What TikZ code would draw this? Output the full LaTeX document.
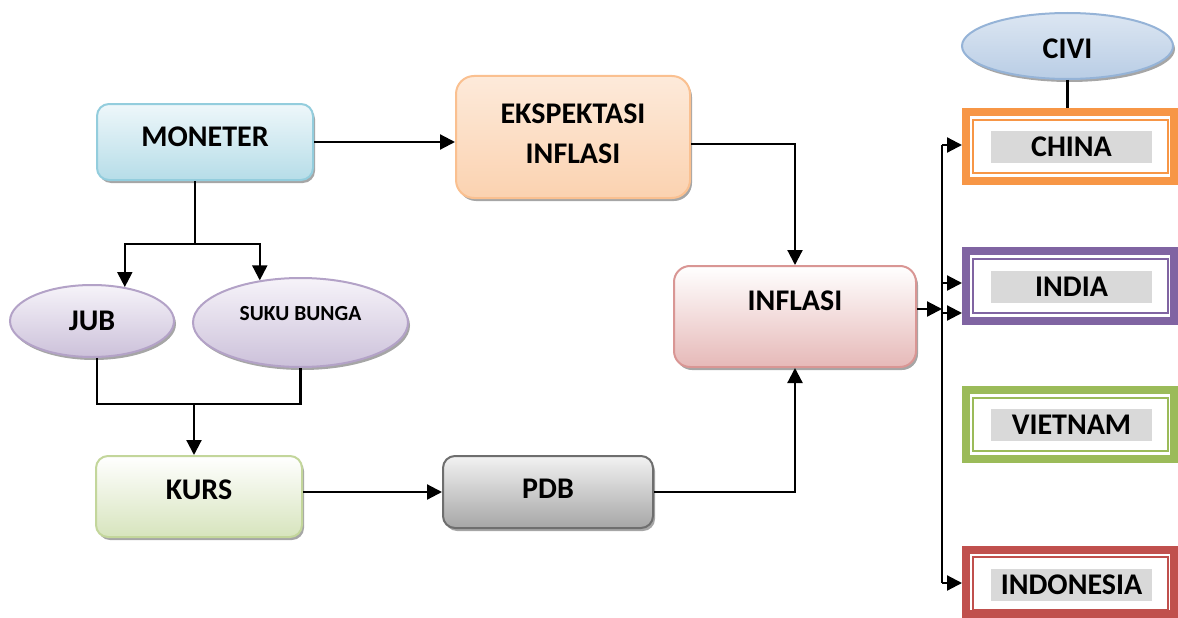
\documentclass[tikz,border=0pt]{standalone}
\usepackage{fontspec}
\setmainfont{Carlito}
\usetikzlibrary{shapes.geometric,shadows,arrows.meta,calc}
\definecolor{monD}{HTML}{93CDDD}\definecolor{monT}{HTML}{EEF7FA}\definecolor{monB}{HTML}{B6DDE8}
\definecolor{eksD}{HTML}{FAC090}\definecolor{eksT}{HTML}{FDEADA}\definecolor{eksB}{HTML}{FBD2B0}
\definecolor{infD}{HTML}{D99694}\definecolor{infT}{HTML}{FFFFFF}\definecolor{infB}{HTML}{E6B9B8}
\definecolor{kurD}{HTML}{C3D69B}\definecolor{kurT}{HTML}{FFFFFF}\definecolor{kurB}{HTML}{D7E4BD}
\definecolor{pdbD}{HTML}{6E6E6E}\definecolor{pdbT}{HTML}{F2F2F2}\definecolor{pdbB}{HTML}{A6A6A6}
\definecolor{ovD}{HTML}{B3A2C7}\definecolor{ovT}{HTML}{F6F3F9}\definecolor{ovB}{HTML}{CCC1DA}
\definecolor{civD}{HTML}{95B3D7}\definecolor{civT}{HTML}{DCE6F2}\definecolor{civB}{HTML}{B9CDE5}
\definecolor{cOr}{HTML}{F79646}\definecolor{cPu}{HTML}{8064A2}
\definecolor{cGr}{HTML}{9BBB59}\definecolor{cRe}{HTML}{C0504D}
\definecolor{labgray}{HTML}{D9D9D9}
\begin{document}
\begin{tikzpicture}[x=1pt,y=-1pt,
  line/.style={line width=2.2pt, black},
  arr/.style={line, -{Triangle[length=15pt,width=15pt]}},
  sh/.style={drop shadow={shadow xshift=2pt,shadow yshift=-3pt,fill=black!35,opacity=1}},
  rbox/.style={rectangle, line width=2pt, sh, inner sep=0pt},
  oval/.style={ellipse, line width=2pt, sh, inner sep=0pt},
  txt/.style={font=\fontsize{30}{40}\selectfont\bfseries, align=center, inner sep=0pt},
  cbox/.style={rectangle, line width=8pt, draw=#1, fill=white, minimum width=208pt, inner sep=0pt},
  clab/.style={rectangle, fill=labgray, minimum width=161pt, minimum height=32pt, inner sep=0pt, font=\fontsize{30}{32}\selectfont\bfseries},
]
\useasboundingbox (0,0) rectangle (1178,618);

% main boxes
\node[rbox, rounded corners=12pt, draw=monD, top color=monT, bottom color=monB,
  minimum width=216pt, minimum height=76pt,
  label={[txt,name=monL,yshift=5pt]center:MONETER}] (mon) at (205,142) {};
\node[rbox, rounded corners=18pt, draw=eksD, top color=eksT, bottom color=eksB,
  minimum width=234pt, minimum height=122pt,
  label={[txt,name=eksL,yshift=3.5pt]center:EKSPEKTASI\\INFLASI}] (eks) at (573,137) {};
\node[rbox, rounded corners=16pt, draw=infD, top color=infT, bottom color=infB,
  minimum width=242pt, minimum height=101pt,
  label={[txt,name=infL,yshift=16pt]center:INFLASI}] (inf) at (795,316.5) {};
\node[rbox, rounded corners=12pt, draw=kurD, top color=kurT, bottom color=kurB,
  minimum width=206pt, minimum height=81pt,
  label={[txt,name=kurL,yshift=6.5pt]center:KURS}] (kurs) at (199,496.5) {};
\node[rbox, rounded corners=12pt, draw=pdbD, top color=pdbT, bottom color=pdbB,
  minimum width=210pt, minimum height=72pt,
  label={[txt,name=pdbL,yshift=3pt]center:PDB}] (pdb) at (548,492) {};

% ellipses
\node[oval, draw=ovD, top color=ovT, bottom color=ovB,
  minimum width=164pt, minimum height=72pt,
  label={[txt,name=jubL]center:JUB}] (jub) at (92,321) {};
\node[oval, draw=ovD, top color=ovT, bottom color=ovB,
  minimum width=215pt, minimum height=89pt,
  label={[txt,name=sukL,yshift=9pt,font=\fontsize{21.5}{24}\selectfont\bfseries]center:SUKU BUNGA}] (suk) at (300.5,322.5) {};
\node[oval, draw=civD, top color=civT, bottom color=civB,
  minimum width=211pt, minimum height=66pt,
  label={[txt,name=civL,yshift=-3pt]center:CIVI}] (civi) at (1067.5,46) {};

% country boxes
\node[cbox=cOr, minimum height=69pt] (chn) at (1070,146.5) {};
\node[cbox=cPu, minimum height=70pt] (ind) at (1070,286) {};
\node[cbox=cGr, minimum height=69pt] (vie) at (1070,424.5) {};
\node[cbox=cRe, minimum height=64pt] (ino) at (1070,582) {};
\draw[cOr, line width=2pt] ($(chn.north west)+(11,12)$) rectangle ($(chn.south east)+(-10,-12)$);
\draw[cPu, line width=2pt] ($(ind.north west)+(11,12)$) rectangle ($(ind.south east)+(-10,-12)$);
\draw[cGr, line width=2pt] ($(vie.north west)+(11,12)$) rectangle ($(vie.south east)+(-10,-12)$);
\draw[cRe, line width=2pt] ($(ino.north west)+(11,11)$) rectangle ($(ino.south east)+(-10,-8)$);
\node[clab] (chnL) at (1071.5,147) {CHINA};
\node[clab] (indL) at (1071.5,287) {INDIA};
\node[clab] (vieL) at (1071.5,425) {VIETNAM};
\node[clab] (inoL) at (1071.5,585) {INDONESIA};

% connectors
\draw[arr] (mon.east) -- (mon.east -| eks.west);
\coordinate (j0) at (195,244);
\draw[line] (mon.south -| j0) -- (j0);
\draw[arr] (j0) -| (jub.46);
\draw[arr] (j0) -| (suk.134);
\coordinate (k0) at (194,404);
\draw[line] (jub.-82) |- (suk.south |- k0) -- (suk.south);
\draw[arr] (k0) -- (k0 |- kurs.north);
\draw[arr] (kurs.east |- pdb.west) -- (pdb.west);
\draw[arr] (pdb.east) -| (inf.south);
\draw[arr] ($(eks.east)+(0,7)$) -| (inf.north);
\draw[line] (civi.south) -- (civi.south |- chn.north);

\coordinate (bt) at (942,145);
\coordinate (bb) at (942,583);
\coordinate (b2) at (942,283);
\coordinate (b3) at (942,313);
\coordinate (b4) at (942,309);
\draw[line] (bt) -- (bb);
\draw[arr] (bt) -- (bt -| chn.west);
\draw[arr] (b2) -- (b2 -| ind.west);
\draw[arr] (b3) -- (b3 -| ind.west);
\draw[arr] (bb) -- (bb -| ino.west);
\draw[arr] (inf.east |- b4) -- (b4);
\end{tikzpicture}
\end{document}
